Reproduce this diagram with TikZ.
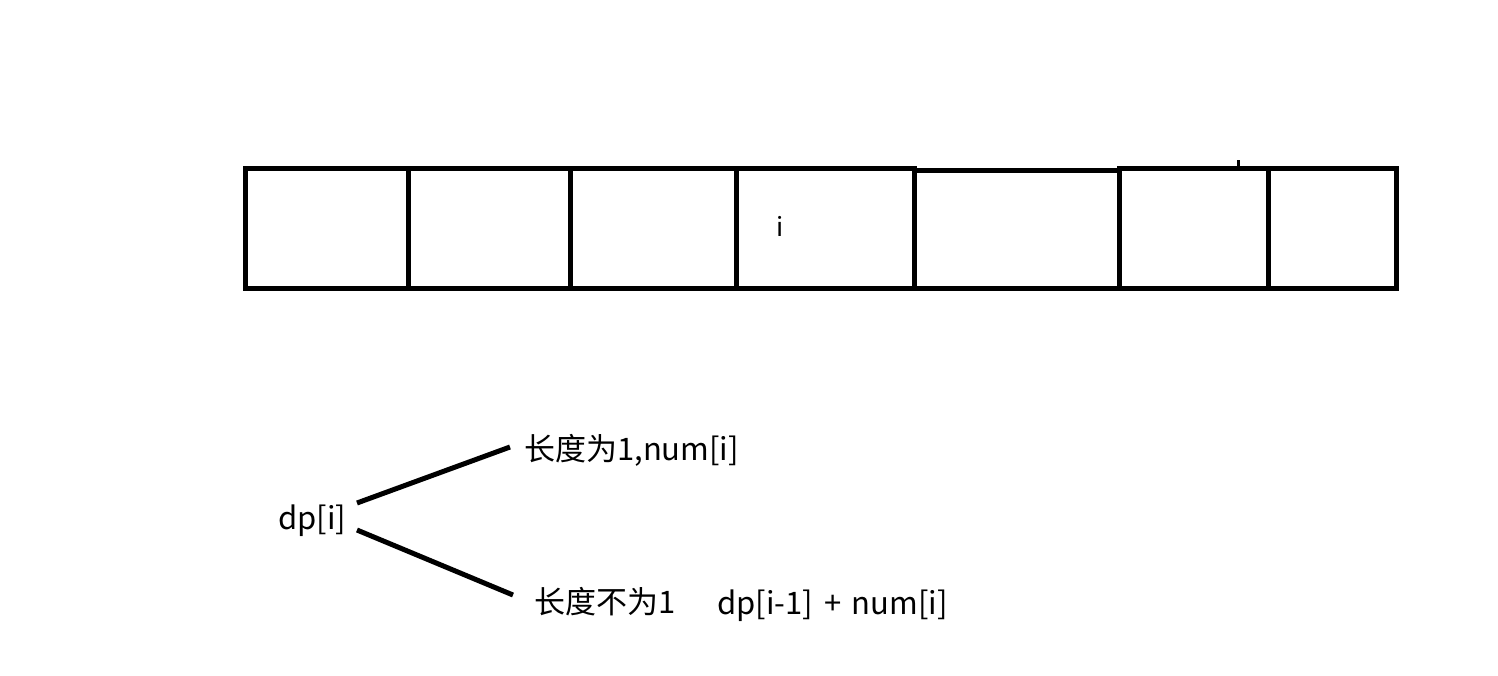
\documentclass[tikz,border=0pt]{standalone}
\usepackage{fontspec}
\setmainfont{Noto Sans CJK SC}
\begin{document}
\begin{tikzpicture}[x=1pt,y=-1pt,
  cell/.style={draw,line width=5pt,minimum height=120pt,inner sep=0pt},
  lbl/.style={anchor=west,inner sep=0pt,font=\fontsize{31}{35}\selectfont},
  conn/.style={line width=5pt}]
\useasboundingbox[fill=white] (0,0) rectangle (1498,675);
% array cells
\node[cell,minimum width=163pt] (c1) at (326.5,228) {};
\node[cell,minimum width=162pt] (c2) at (489,228) {};
\node[cell,minimum width=166pt] (c3) at (653,228) {};
\node[cell,minimum width=178pt] (c4) at (825,228) {};
\node[cell,minimum width=205pt,minimum height=118pt] (c5) at (1016.5,229) {};
\node[cell,minimum width=149pt] (c6) at (1193.5,228) {};
\node[cell,minimum width=128pt] (c7) at (1332,228) {};
\node[lbl,font=\fontsize{26}{30}\selectfont] (ilbl) at (776,226) {i};
\coordinate (tick) at (1238,160);
\draw[line width=3pt] (tick) -- ++(0,6);
% labels
\node[lbl] (dp) at (278,521) {dp[i]};
\node[lbl] (up) at (524,450) {长度为1,num[i]};
\node[lbl] (down) at (534,602) {长度不为1};
\node[lbl] (form) at (717,606) {dp[i-1]\hspace{0.15em} + \hspace{0.1em}num[i]};
% connectors
\coordinate (s1) at (357,503);
\coordinate (e1) at (510,447);
\coordinate (s2) at (357,530);
\coordinate (e2) at (513,595);
\draw[conn] (s1) -- (e1);
\draw[conn] (s2) -- (e2);
\end{tikzpicture}
\end{document}
